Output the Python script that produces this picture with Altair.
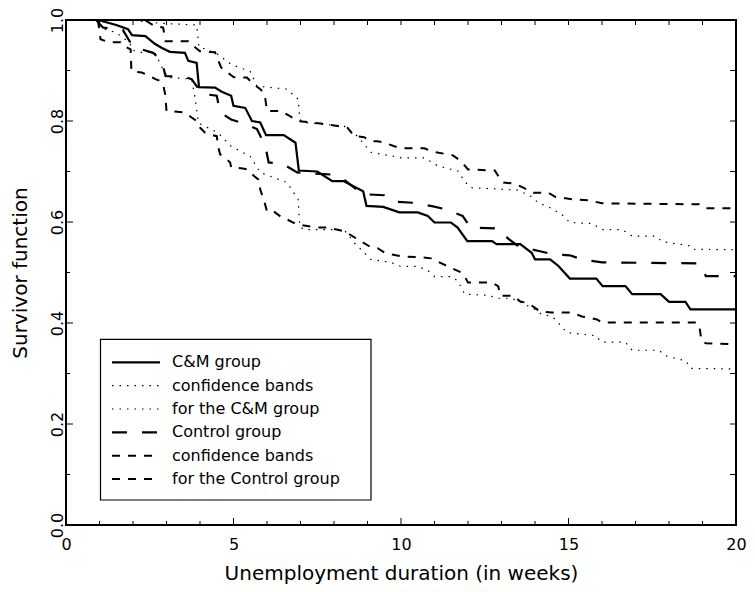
import altair as alt
import pandas as pd

# ---------------- data ----------------
# C&M group (solid)
cm_t = [0, 0.95, 1.5, 1.85, 1.97, 2.37, 2.65, 2.85, 3.1, 3.55, 3.65, 3.9, 3.97, 4.45, 4.65, 4.93, 5.0,
        5.35, 5.55, 5.8, 5.97, 6.5, 6.85, 6.95, 7.5, 7.95, 8.28, 8.58, 8.87, 8.97, 9.47, 9.95, 10.5,
        10.8, 11.0, 11.49, 11.69, 11.98, 12.72, 12.85, 13.56, 13.9, 14.0, 14.45, 14.7, 15.04, 15.83,
        16.02, 16.7, 16.9, 17.75, 18.0, 18.49, 18.64, 20]
cm_s = [1.0, 1.0, 0.99, 0.982, 0.970, 0.968, 0.953, 0.945, 0.937, 0.935, 0.919, 0.915, 0.867, 0.866,
        0.858, 0.850, 0.830, 0.826, 0.800, 0.797, 0.772, 0.772, 0.757, 0.702, 0.700, 0.681, 0.681,
        0.671, 0.661, 0.632, 0.630, 0.619, 0.619, 0.612, 0.599, 0.599, 0.589, 0.562, 0.562, 0.556,
        0.556, 0.539, 0.526, 0.526, 0.513, 0.488, 0.488, 0.473, 0.473, 0.457, 0.457, 0.442, 0.442,
        0.427, 0.427]

# confidence bands for the C&M group (dotted)
cm_hi_t = [0, 2.0, 2.5, 3.0, 3.9, 3.97, 4.2, 4.53, 4.93, 5.5, 5.7, 6.6, 6.93, 6.98, 7.1, 8.3, 8.7, 9.1,
           9.7, 10.0, 10.7, 11.1, 11.7, 11.9, 12.1, 13.5, 13.9, 14.1, 14.4, 14.8, 15.04, 15.7, 16.0,
           16.6, 16.9, 17.6, 17.8, 18.6, 18.7, 20]
cm_hi_s = [1.0, 1.0, 0.995, 0.993, 0.99, 0.946, 0.942, 0.932, 0.912, 0.898, 0.869, 0.863, 0.843, 0.803,
           0.797, 0.790, 0.770, 0.738, 0.731, 0.727, 0.727, 0.711, 0.701, 0.680, 0.668, 0.663, 0.650,
           0.638, 0.630, 0.615, 0.599, 0.597, 0.585, 0.585, 0.572, 0.572, 0.561, 0.553, 0.546, 0.545]
cm_lo_t = [0, 0.95, 1.0, 1.5, 1.9, 2.0, 2.25, 2.65, 2.85, 3.05, 3.35, 3.75, 3.86, 3.95, 4.04, 4.53, 4.93,
           5.5, 5.8, 6.6, 6.93, 6.98, 7.1, 8.3, 8.6, 9.1, 9.7, 10.0, 10.5, 10.8, 11.0, 11.5, 11.7, 11.9,
           12.6, 12.9, 13.3, 13.6, 14.0, 14.2, 14.5, 14.65, 14.95, 15.8, 16.0, 16.7, 16.9, 17.7, 17.9,
           18.5, 18.65, 20]
cm_lo_s = [1.0, 1.0, 0.985, 0.975, 0.955, 0.940, 0.936, 0.936, 0.908, 0.886, 0.885, 0.883, 0.843, 0.797,
           0.793, 0.777, 0.750, 0.730, 0.698, 0.678, 0.645, 0.591, 0.585, 0.585, 0.559, 0.526, 0.520,
           0.512, 0.512, 0.504, 0.492, 0.492, 0.483, 0.457, 0.455, 0.449, 0.449, 0.440, 0.427, 0.417,
           0.413, 0.404, 0.381, 0.375, 0.362, 0.362, 0.346, 0.346, 0.335, 0.325, 0.310, 0.309]

# Control group (long dash)
ct_t = [0, 0.9, 1.1, 1.7, 1.97, 2.2, 2.6, 2.86, 2.97, 3.55, 3.75, 4.0, 4.05, 4.5, 4.6, 4.93, 5.4, 5.7,
        5.95, 6.05, 6.5, 6.9, 7.9, 8.3, 8.6, 8.9, 9.5, 9.85, 10.4, 10.96, 11.34, 11.84, 12.08, 12.9,
        13.2, 13.5, 14.15, 14.55, 15.04, 15.4, 16.0, 18.9, 19.1, 20]
ct_s = [1.0, 1.0, 0.985, 0.98, 0.95, 0.943, 0.935, 0.919, 0.889, 0.887, 0.883, 0.86, 0.854, 0.850,
        0.817, 0.803, 0.793, 0.784, 0.750, 0.718, 0.714, 0.698, 0.694, 0.684, 0.668, 0.655, 0.653,
        0.640, 0.638, 0.631, 0.625, 0.612, 0.589, 0.587, 0.567, 0.552, 0.542, 0.536, 0.534, 0.526,
        0.520, 0.518, 0.493, 0.493]

# confidence bands for the Control group (short dash)
ct_hi_t = [0, 2.35, 2.65, 2.9, 2.97, 3.65, 3.85, 4.0, 4.45, 4.53, 4.63, 4.9, 5.0, 5.4, 5.6, 5.8, 5.93,
           6.0, 6.4, 6.7, 6.9, 7.6, 7.8, 8.4, 8.6, 8.9, 9.1, 9.3, 9.5, 9.8, 10.0, 10.7, 10.9, 11.55,
           11.8, 12.0, 12.8, 12.97, 13.06, 13.4, 13.65, 13.95, 14.4, 14.6, 15.1, 15.6, 16.0, 18.9,
           19.1, 20]
ct_hi_s = [1.0, 1.0, 0.988, 0.985, 0.958, 0.958, 0.946, 0.938, 0.936, 0.922, 0.906, 0.892, 0.887,
           0.886, 0.873, 0.863, 0.853, 0.820, 0.820, 0.809, 0.800, 0.795, 0.793, 0.787, 0.770, 0.768,
           0.760, 0.760, 0.757, 0.750, 0.746, 0.746, 0.740, 0.732, 0.720, 0.704, 0.702, 0.684, 0.678,
           0.676, 0.668, 0.658, 0.658, 0.650, 0.645, 0.643, 0.637, 0.635, 0.627, 0.627]
ct_lo_t = [0, 0.95, 1.0, 1.03, 1.28, 1.63, 1.73, 1.93, 1.95, 1.97, 2.26, 2.4, 2.67, 2.82, 2.91, 2.96,
           3.0, 3.55, 3.75, 3.9, 4.0, 4.15, 4.3, 4.5, 4.54, 4.6, 4.8, 4.9, 4.93, 5.28, 5.42, 5.63, 5.75,
           5.8, 5.93, 6.0, 6.2, 6.4, 6.6, 6.9, 7.5, 7.8, 8.3, 8.7, 9.1, 9.3, 9.5, 9.7, 10.0, 10.6, 10.9,
           11.4, 11.8, 11.9, 12.0, 12.7, 12.9, 12.97, 13.1, 13.35, 13.55, 13.8, 14.0, 14.15, 14.5,
           15.1, 15.4, 15.6, 15.85, 16.0, 18.8, 18.9, 18.97, 19.1, 20]
ct_lo_s = [1.0, 1.0, 0.978, 0.962, 0.956, 0.956, 0.948, 0.942, 0.902, 0.898, 0.896, 0.892, 0.883,
           0.879, 0.869, 0.853, 0.820, 0.817, 0.807, 0.800, 0.787, 0.777, 0.773, 0.770, 0.750, 0.734,
           0.724, 0.718, 0.708, 0.706, 0.704, 0.690, 0.684, 0.664, 0.638, 0.621, 0.621, 0.611, 0.605,
           0.595, 0.589, 0.589, 0.582, 0.566, 0.550, 0.548, 0.540, 0.536, 0.532, 0.530, 0.528, 0.512,
           0.500, 0.493, 0.480, 0.480, 0.473, 0.454, 0.454, 0.454, 0.443, 0.439, 0.430, 0.423, 0.421,
           0.421, 0.413, 0.411, 0.407, 0.401, 0.401, 0.397, 0.364, 0.360, 0.358]

legend_labels = ["C&M group", "confidence bands", "for the C&M group",
                 "Control group", "confidence bands", "for the Control group"]

x_major = [0, 5, 10, 15, 20]
x_minor = [1, 2, 3, 4, 6, 7, 8, 9, 11, 12, 13, 14, 16, 17, 18, 19]
y_major = [0.0, 0.2, 0.4, 0.6, 0.8, 1.0]
y_minor = [0.1, 0.3, 0.5, 0.7, 0.9]

# ---------------- build table ----------------
series = [
    ("cm", cm_t, cm_s),
    ("cm_hi", cm_hi_t, cm_hi_s),
    ("cm_lo", cm_lo_t, cm_lo_s),
    ("ct", ct_t, ct_s),
    ("ct_hi", ct_hi_t, ct_hi_s),
    ("ct_lo", ct_lo_t, ct_lo_s),
]
rows = []
for name, ts, ss in series:
    for i, (a, b) in enumerate(zip(ts, ss)):
        rows.append({"series": name, "order": i, "week": a, "surv": b})
df = pd.DataFrame(rows)

W, H = 670, 505
FONT = "DejaVu Sans"

styles = {
    "solid": dict(strokeWidth=2.2),
    "dotted": dict(strokeWidth=1.2, strokeDash=[1.5, 6]),
    "long": dict(strokeWidth=2.2, strokeDash=[15, 15]),
    "short": dict(strokeWidth=2.0, strokeDash=[8, 8]),
}
series_style = [(["cm"], "solid"), (["cm_hi", "cm_lo"], "dotted"),
                (["ct"], "long"), (["ct_hi", "ct_lo"], "short")]
legend_style = ["solid", "dotted", "dotted", "long", "short", "short"]

xs = alt.Scale(domain=[0, 20], nice=False, zero=False)
ys = alt.Scale(domain=[0, 1], nice=False, zero=False)

x_axis = alt.Axis(values=x_major, ticks=False, domain=False, grid=False,
                  title="Unemployment duration (in weeks)", labelFontSize=16,
                  labelBaseline="alphabetic", labelPadding=24, labelFlush=False,
                  titleFontSize=20, titleY=54, titleBaseline="alphabetic")
y_axis = alt.Axis(values=y_major, format=".1f", ticks=False, domain=False, grid=False,
                  title="Survivor function", labelFontSize=16, labelAngle=270,
                  labelAlign="center", labelBaseline="alphabetic", labelPadding=4,
                  labelFlush=False, titleFontSize=20, titleAngle=270, titleAlign="center",
                  titleBaseline="middle", titleX=-45.5, titleY=H / 2)

layers = []
for names, st in series_style:
    layers.append(
        alt.Chart(df).transform_filter(
            alt.FieldOneOfPredicate(field="series", oneOf=names)
        ).mark_line(color="black", clip=True, strokeCap="butt", **styles[st]).encode(
            x=alt.X("week:Q", scale=xs, axis=x_axis),
            y=alt.Y("surv:Q", scale=ys, axis=y_axis),
            detail="series:N",
            order="order:Q",
        )
    )

# inward ticks on all four sides (same shared scales and axes)
def xticks(vals, y0, y1):
    return alt.Chart(pd.DataFrame({"week": vals})).mark_rule(color="black", strokeWidth=1).encode(
        x=alt.X("week:Q", scale=xs, axis=x_axis), y=alt.value(y0), y2=alt.value(y1))

def yticks(vals, x0, x1):
    return alt.Chart(pd.DataFrame({"surv": vals})).mark_rule(color="black", strokeWidth=1).encode(
        y=alt.Y("surv:Q", scale=ys, axis=y_axis), x=alt.value(x0), x2=alt.value(x1))

layers += [
    xticks(x_major, H, H - 7), xticks(x_minor, H, H - 4),
    xticks(x_major + x_minor, 0, 5),
    yticks(y_major, 0, 7), yticks(y_minor, 0, 4),
    yticks(y_major + y_minor, W, W - 6),
]

# legend box
box = alt.Chart(pd.DataFrame({"k": [0]})).mark_rect(
    fill="white", stroke="black", strokeWidth=1.2
).encode(x=alt.value(34.5), x2=alt.value(305), y=alt.value(319.3), y2=alt.value(480))
layers.append(box)

for i, lab in enumerate(legend_labels):
    yy = 342.3 + i * 23.35
    d = pd.DataFrame({"label": [lab]})
    layers.append(
        alt.Chart(d).mark_rule(color="black", strokeCap="butt", **styles[legend_style[i]]).encode(
            x=alt.value(46), x2=alt.value(94), y=alt.value(yy))
    )
    layers.append(
        alt.Chart(d).mark_text(align="left", baseline="middle", font=FONT, fontSize=16,
                               color="black").encode(
            x=alt.value(106), y=alt.value(yy), text="label:N")
    )

chart = alt.layer(*layers).properties(
    width=W, height=H,
    autosize=alt.AutoSizeParams(type="none"),
    padding={"left": 58, "top": 12, "right": 11, "bottom": 59},
    background="white",
).configure_view(
    stroke="black", strokeWidth=2
).configure_axis(
    labelFont=FONT, titleFont=FONT, labelColor="black", titleColor="black",
    titleFontWeight="normal"
)

chart.save("out.html", embed_options={"renderer": "svg", "actions": False})
